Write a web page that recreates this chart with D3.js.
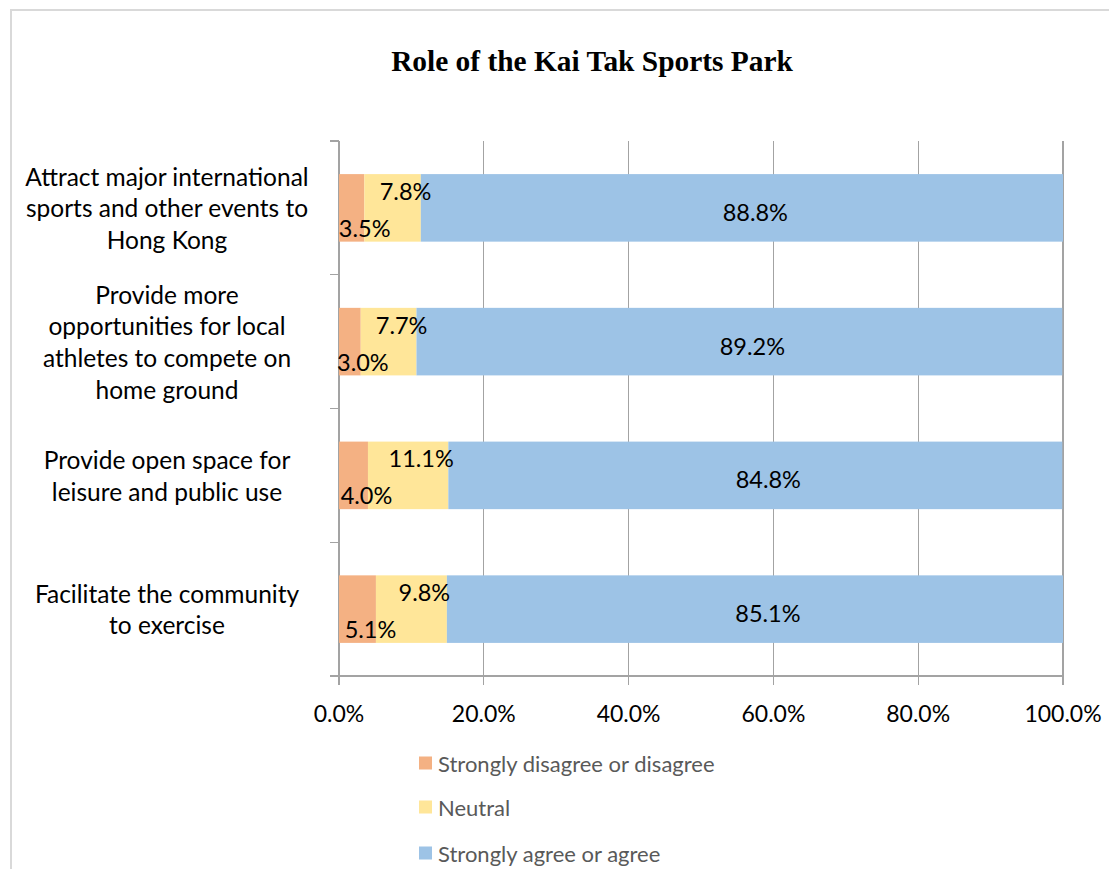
<!DOCTYPE html>
<html>
<head>
<meta charset="utf-8">
<script src="https://cdn.jsdelivr.net/npm/d3@7"></script>
<style>
  html, body { margin: 0; padding: 0; background: #fff; }
  svg { display: block; }
</style>
</head>
<body>
<svg id="chart" width="1109" height="869"></svg>
<script>
// ---- data ----
const categories = [
  ["Attract major international", "sports and other events to", "Hong Kong"],
  ["Provide more", "opportunities for local", "athletes to compete on", "home ground"],
  ["Provide open space for", "leisure and public use"],
  ["Facilitate the community", "to exercise"]
];
const seriesNames = ["Strongly disagree or disagree", "Neutral", "Strongly agree or agree"];
const disagreeValues = [3.5, 3.0, 4.0, 5.1];
const neutralValues = [7.8, 7.7, 11.1, 9.8];
const agreeValues = [88.8, 89.2, 84.8, 85.1];
const tickValues = [0, 20, 40, 60, 80, 100];
const tickLabels = ["0.0%", "20.0%", "40.0%", "60.0%", "80.0%", "100.0%"];
const colors = ["#F4B183", "#FFE699", "#9DC3E6"];
const title = "Role of the Kai Tak Sports Park";

// ---- build ----
const svg = d3.select("#chart");
const font = "Lato, 'Open Sans', sans-serif";

// chart border
svg.append("rect").attr("x", 11).attr("y", 10).attr("width", 1200).attr("height", 1000)
  .attr("fill", "none").attr("stroke", "#d9d9d9").attr("stroke-width", 2);

svg.append("text").attr("x", 592).attr("y", 71).attr("text-anchor", "middle")
  .attr("font-family", "'Liberation Serif', 'Times New Roman', serif")
  .attr("font-weight", "bold").attr("font-size", 29.4).attr("fill", "#000").text(title);

const x = d3.scaleLinear().domain([0, 100]).range([339, 1063]);
const y = d3.scaleBand().domain(d3.range(categories.length)).range([141, 676]).padding(0);

const rows = categories.map((c, i) => ({ i, values: [disagreeValues[i], neutralValues[i], agreeValues[i]] }));
const stack = d3.stack().keys([0, 1, 2]).value((d, k) => d.values[k]);
const stacked = stack(rows);

const gridColor = "#a3a3a3";
// gridlines
svg.append("g").selectAll("line").data(tickValues).join("line")
  .attr("x1", d => x(d)).attr("x2", d => x(d))
  .attr("y1", y.range()[0]).attr("y2", y.range()[1] + 9)
  .attr("stroke", gridColor).attr("stroke-width", 1.1).attr("shape-rendering", "crispEdges");

// bottom axis line
svg.append("line").attr("x1", x(0)).attr("x2", x(100)).attr("y1", 676).attr("y2", 676)
  .attr("stroke", gridColor).attr("stroke-width", 1.1).attr("shape-rendering", "crispEdges");

// left category tick marks
const boundaries = d3.range(categories.length).map(i => y(i)).concat([y.range()[1]]);
svg.append("g").selectAll("line").data(boundaries).join("line")
  .attr("x1", x(0) - 9).attr("x2", x(0)).attr("y1", d => d).attr("y2", d => d)
  .attr("stroke", gridColor).attr("stroke-width", 1.1).attr("shape-rendering", "crispEdges");

// bars
const barH = y.bandwidth() * 0.505;
const g = svg.append("g");
stacked.forEach((layer, k) => {
  g.selectAll(null).data(layer).join("rect")
    .attr("x", d => x(d[0]))
    .attr("width", d => Math.min(x(d[1]), x(100)) - x(d[0]))
    .attr("y", (d, i) => y(i) + (y.bandwidth() - barH) / 2)
    .attr("height", barH)
    .attr("fill", colors[k]);
});

// data labels
const labelDy = [20, -17, 4];
stacked.forEach((layer, k) => {
  g.selectAll(null).data(layer).join("text")
    .attr("x", d => (x(d[0]) + x(d[1])) / 2 + 13)
    .attr("y", (d, i) => y(i) + y.bandwidth() / 2 + labelDy[k])
    .attr("dominant-baseline", "central")
    .attr("text-anchor", "middle")
    .attr("font-family", font).attr("font-size", 23.5).attr("fill", "#000")
    .text(d => (d[1] - d[0]).toFixed(1) + "%");
});

// category labels
const lineH = 31.7;
categories.forEach((lines, i) => {
  const cy = y(i) + y.bandwidth() / 2;
  const t = svg.append("text").attr("text-anchor", "middle")
    .attr("font-family", font).attr("font-size", 24.5).attr("fill", "#000");
  lines.forEach((ln, j) => {
    t.append("tspan").attr("x", 167)
      .attr("y", cy + (j - (lines.length - 1) / 2) * lineH)
      .attr("dominant-baseline", "central").text(ln);
  });
});

// x tick labels
svg.append("g").selectAll("text").data(tickValues).join("text")
  .attr("x", d => x(d)).attr("y", 713).attr("dominant-baseline", "central")
  .attr("text-anchor", "middle").attr("font-family", font).attr("font-size", 23)
  .attr("fill", "#000").text((d, i) => tickLabels[i]);

// legend
const legendY = [763, 807, 853];
seriesNames.forEach((name, k) => {
  svg.append("rect").attr("x", 419).attr("y", legendY[k] - 6.5).attr("width", 13).attr("height", 13)
    .attr("fill", colors[k]);
  svg.append("text").attr("x", 438).attr("y", legendY[k]).attr("dominant-baseline", "central")
    .attr("font-family", font).attr("font-size", 22).attr("fill", "#595959").text(name);
});
</script>
</body>
</html>
